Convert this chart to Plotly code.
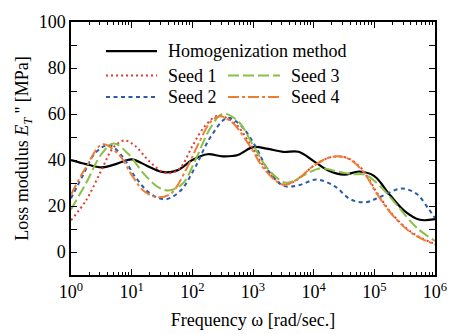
import plotly.graph_objects as go

# Loss modulus E_T'' versus angular frequency (log10 of omega, MPa)
homog_logw = [0, 0.25, 0.5, 0.75, 1.0, 1.25, 1.5, 1.75, 2.0, 2.25, 2.5, 2.75, 3.0,
              3.25, 3.5, 3.75, 4.0, 4.25, 4.5, 4.75, 5.0, 5.25, 5.5, 5.75, 6.0]
homog_val = [40.0, 38.2, 36.8, 38.3, 40.3, 37.5, 34.8, 35.5, 40.0, 42.5, 41.6, 42.2, 45.6,
             44.8, 43.5, 43.6, 39.5, 35.3, 33.6, 35.0, 33.0, 25.0, 17.8, 14.0, 14.3]

seed1_logw = [0, 0.25, 0.5, 0.7, 0.88, 1.05, 1.27, 1.5, 1.65, 1.8, 2.0, 2.2, 2.42, 2.7,
              2.95, 3.2, 3.5, 3.75, 4.0, 4.3, 4.55, 4.8, 5.05, 5.3, 5.6, 5.8, 6.0]
seed1_val = [13.8, 22.5, 35.5, 45.5, 48.5, 46.3, 40.0, 35.0, 34.3, 36.5, 46.0, 54.5, 59.2, 56.0,
             47.0, 36.5, 29.4, 31.8, 37.5, 41.3, 40.9, 36.0, 25.5, 16.3, 8.8, 5.8, 3.5]

seed2_logw = [0, 0.2, 0.4, 0.62, 0.85, 1.05, 1.3, 1.55, 1.8, 2.05, 2.3, 2.58, 2.8, 3.05,
              3.25, 3.5, 3.75, 4.05, 4.35, 4.6, 4.85, 5.1, 5.45, 5.7, 5.9, 6.0]
seed2_val = [23.3, 33.5, 43.0, 46.5, 41.5, 33.0, 25.5, 22.9, 26.5, 37.0, 50.0, 58.3, 55.0, 45.5,
             35.5, 28.8, 29.0, 31.5, 28.5, 23.0, 21.6, 24.0, 27.6, 25.2, 18.5, 14.8]

seed3_logw = [0, 0.25, 0.5, 0.7, 0.95, 1.2, 1.45, 1.63, 1.85, 2.05, 2.3, 2.5, 2.75, 3.0,
              3.25, 3.55, 3.85, 4.1, 4.4, 4.65, 4.85, 5.1, 5.4, 5.7, 6.0]
seed3_val = [18.5, 30.0, 42.5, 47.2, 42.5, 34.0, 28.0, 26.8, 30.0, 40.0, 54.0, 60.1, 57.0, 46.5,
             36.0, 30.1, 33.5, 36.3, 35.0, 33.8, 33.6, 28.5, 19.5, 10.5, 4.8]

seed4_logw = [0, 0.25, 0.52, 0.8, 1.0, 1.2, 1.43, 1.65, 1.9, 2.1, 2.3, 2.45, 2.65, 2.95,
              3.2, 3.5, 3.75, 4.0, 4.3, 4.55, 4.8, 5.05, 5.3, 5.6, 5.8, 6.0]
seed4_val = [25.0, 37.0, 46.8, 42.0, 33.5, 26.5, 23.8, 25.5, 36.0, 47.0, 56.5, 59.0, 56.5, 46.0,
             35.5, 29.3, 32.0, 37.5, 41.4, 40.8, 35.5, 25.0, 16.0, 8.5, 5.5, 3.3]

xtick_exps = [0, 1, 2, 3, 4, 5, 6]

series = [
    ("Homogenization method", homog_logw, homog_val, "#000000", "solid", 2.2),
    ("Seed 1", seed1_logw, seed1_val, "#e53935", "2px,3px", 2.0),
    ("Seed 2", seed2_logw, seed2_val, "#2b5ca8", "4px,3.5px", 2.0),
    ("Seed 3", seed3_logw, seed3_val, "#8cbf45", "11px,4px", 2.0),
    ("Seed 4", seed4_logw, seed4_val, "#ee7d33", "11px,3px,3px,3px", 2.0),
]

FONT = "Liberation Serif, Times New Roman, serif"
FS = 18

fig = go.Figure()
for name, lw, val, color, dash, width in series:
    fig.add_trace(go.Scatter(
        x=[10 ** e for e in lw], y=val, mode="lines", name=name,
        line=dict(color=color, dash=dash, width=width, shape="spline", smoothing=1.0),
        showlegend=False,
    ))

# hand-placed two-column key inside the plot area
x0, x1 = 71, 435
y0, y1 = 15, 275
def px(x):
    return (x - x0) / (x1 - x0)
def py(y):
    return (y1 - y) / (y1 - y0)

key_items = [
    (series[0], 106, 157, 45, 166),
    (series[1], 106, 157, 70, 166),
    (series[2], 106, 157, 92, 166),
    (series[3], 228, 280, 70, 289),
    (series[4], 228, 280, 92, 289),
]
for (name, _, _, color, dash, width), lx0, lx1, ly, tx in key_items:
    fig.add_shape(type="line", xref="paper", yref="paper",
                  x0=px(lx0), x1=px(lx1), y0=py(ly), y1=py(ly),
                  line=dict(color=color, dash=dash, width=width))
    fig.add_annotation(xref="paper", yref="paper", x=px(tx), y=py(ly),
                       text=name, showarrow=False, xanchor="left", yanchor="middle",
                       font=dict(family=FONT, size=FS, color="black"))

fig.update_layout(
    width=454, height=334,
    margin=dict(l=71, r=19, t=15, b=59),
    paper_bgcolor="white", plot_bgcolor="white",
    font=dict(family=FONT, size=FS, color="black"),
)
fig.update_xaxes(
    type="log", range=[0, 6], automargin=False,
    tickvals=[10 ** e for e in xtick_exps],
    ticktext=[f"10<sup>{e}</sup>" for e in xtick_exps],
    ticks="inside", ticklen=6, tickwidth=1, tickcolor="black",
    minor=dict(ticks="inside", ticklen=3, tickwidth=1, tickcolor="black", dtick="D1"),
    showline=True, linecolor="black", linewidth=1.5, mirror="allticks",
    showgrid=False, zeroline=False,
    title=dict(text="Frequency ω [rad/sec.]", font=dict(family=FONT, size=FS), standoff=12),
    tickfont=dict(family=FONT, size=FS),
)
fig.update_yaxes(
    range=[-10, 100], tick0=0, dtick=20,
    ticks="inside", ticklen=6, tickwidth=1, tickcolor="black",
    minor=dict(ticks="inside", ticklen=6, tickwidth=1, tickcolor="black", dtick=10, tick0=0),
    showline=True, linecolor="black", linewidth=1.5, mirror="allticks",
    showgrid=False, zeroline=False,
    title=dict(text="Loss modulus <i>E</i><sub><i>T</i></sub> '' [MPa]",
               font=dict(family=FONT, size=FS), standoff=5),
    tickfont=dict(family=FONT, size=FS),
)

fig.write_html("out.html")
